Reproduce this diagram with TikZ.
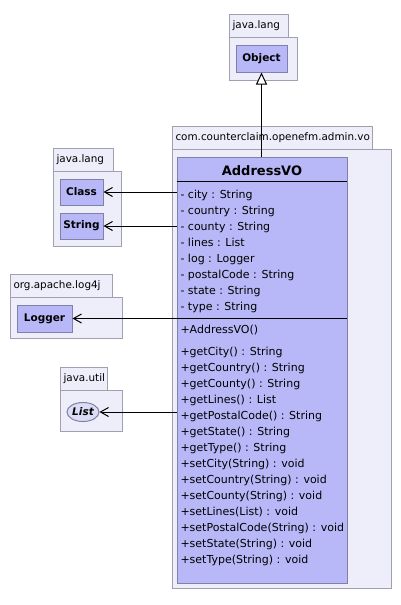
\documentclass[tikz,border=0pt]{standalone}
\usepackage{fontspec}
\setmainfont{DejaVu Sans}
\usetikzlibrary{arrows.meta,shapes.geometric}
\definecolor{pkgfill}{HTML}{EEEEFA}
\definecolor{pkgline}{HTML}{A0A0B0}
\definecolor{clsfill}{HTML}{B8B8F8}
\definecolor{clsline}{HTML}{8080A8}
\definecolor{ifcfill}{HTML}{DCDCF6}

\begin{document}
\begin{tikzpicture}[x=1pt, y=-1pt, line width=1pt,
  pkgtab/.style={draw=pkgline, fill=pkgfill, anchor=north west, minimum height=23pt,
                 inner xsep=3pt, align=left, font=\fontsize{10.4}{12}\selectfont},
  pkgbody/.style={draw=pkgline, fill=pkgfill, anchor=north west, inner sep=0pt},
  klass/.style={draw=clsline, fill=clsfill, inner sep=0pt, font=\fontsize{10.5}{12}\selectfont\bfseries},
  member/.style={anchor=west, inner sep=0pt, text height=8pt, text depth=2.5pt,
                 font=\fontsize{11}{13}\selectfont},
  dep/.style={-{Straight Barb[length=8pt,width=9pt]}},
  gen/.style={-{Triangle[open,length=12pt,width=11pt,fill=white]}}]
\useasboundingbox (0,0) rectangle (401,605);
% packages
\node[pkgbody, minimum width=68pt, minimum height=43pt] (langbodyA) at (229,37) {};
\node[pkgtab, text width=53pt] (langtabA) at (229,14) {java.lang};
\node[pkgbody, minimum width=219pt, minimum height=439pt] (vobody) at (172,149) {};
\node[pkgtab, text width=194pt] (votab) at (172,126) {com.counterclaim.openefm.admin.vo};
\node[pkgbody, minimum width=68pt, minimum height=75pt] (langbodyB) at (53,171) {};
\node[pkgtab, text width=54pt] (langtabB) at (53,148) {java.lang};
\node[pkgbody, minimum width=112pt, minimum height=41pt] (logbody) at (10,297) {};
\node[pkgtab, text width=96pt] (logtab) at (10,274) {org.apache.log4j};
\node[pkgbody, minimum width=62pt, minimum height=41pt] (utilbody) at (60,390) {};
\node[pkgtab, text width=41pt] (utiltab) at (60,367) {java.util};
% classes
\node[klass, minimum width=51pt, minimum height=27pt] (obj) at (261.5,58.5) {Object};
\node[klass, minimum width=43pt, minimum height=26pt] (cls) at (81.5,192) {Class};
\node[klass, minimum width=43pt, minimum height=26pt] (str) at (81.5,226) {String};
\node[klass, minimum width=55pt, minimum height=27pt] (logger) at (44.5,318.5) {Logger};
\node[klass, ellipse, fill=ifcfill, minimum width=32pt, minimum height=19pt,
      font=\fontsize{10.5}{12}\selectfont\bfseries\itshape] (lst) at (83,412) {List};
\node[klass, minimum width=170pt, minimum height=426pt] (addr) at (262,370) {};
\node[font=\fontsize{13}{15}\selectfont\bfseries] (title) at (262,171) {AddressVO};
\draw (addr.north west) ++(0,25) -- ++(170,0);
\draw (addr.north west) ++(0,162) -- ++(170,0);
\foreach \txt [count=\i from 0] in {- city : String, - country : String, - county : String,
    - lines : List, - log : Logger, - postalCode : String, - state : String, - type : String}
  \node[member] at (180,196+16*\i) {\txt};
\node[member] (ctor) at (180,331) {+AddressVO()};
\foreach \txt [count=\i from 0] in {+getCity() : String, +getCountry() : String,
    +getCounty() : String, +getLines() : List, +getPostalCode() : String,
    +getState() : String, +getType() : String, +setCity(String) : void,
    +setCountry(String) : void, +setCounty(String) : void, +setLines(List) : void,
    +setPostalCode(String) : void, +setState(String) : void, +setType(String) : void}
  \node[member] at (180,353+16*\i) {\txt};
% relations
\draw[gen] (addr.north -| obj.south) -- (obj.south);
\draw[dep] (addr.west |- cls.east) -- (cls.east);
\draw[dep] (addr.west |- str.east) -- (str.east);
\draw[dep] (addr.west |- logger.east) -- (logger.east);
\draw[dep] (addr.west |- lst.east) -- (lst.east);
\end{tikzpicture}
\end{document}
